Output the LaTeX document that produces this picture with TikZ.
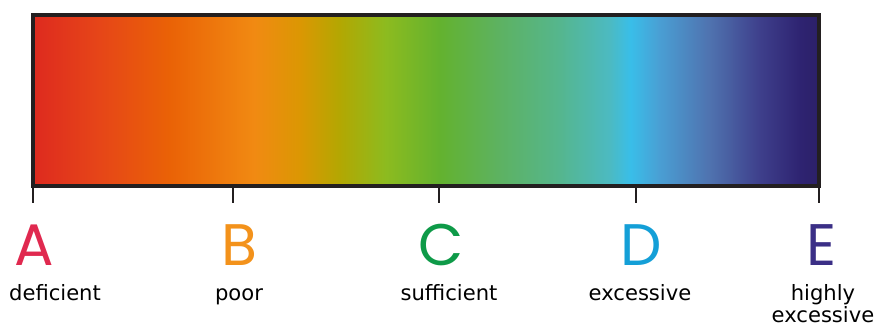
\documentclass[tikz,border=0pt]{standalone}
\usepackage{fontspec}
\setmainfont{DejaVu Sans}
\newfontfamily\gradefont{Poppins}
\usepackage{xcolor}
\usepackage{tikz}
\usetikzlibrary{positioning}
\definecolor{scaleink}{HTML}{231F20}
\definecolor{gradea}{HTML}{E0294F}
\definecolor{gradeb}{HTML}{F3921B}
\definecolor{gradec}{HTML}{0E9A48}
\definecolor{graded}{HTML}{149FD7}
\definecolor{gradee}{HTML}{3B2F86}
\definecolor{stopa}{HTML}{DE2A1F}
\definecolor{stopb}{HTML}{E64618}
\definecolor{stopc}{HTML}{EA6206}
\definecolor{stopd}{HTML}{F18A12}
\definecolor{stope}{HTML}{DB9703}
\definecolor{stopf}{HTML}{B3A702}
\definecolor{stopg}{HTML}{8DBB1F}
\definecolor{stoph}{HTML}{63B22F}
\definecolor{stopi}{HTML}{5DB262}
\definecolor{stopj}{HTML}{55B68E}
\definecolor{stopk}{HTML}{4CBAC2}
\definecolor{stopl}{HTML}{39BEE9}
\definecolor{stopm}{HTML}{4A9ED3}
\definecolor{stopn}{HTML}{4F72AF}
\definecolor{stopo}{HTML}{3E3F8B}
\definecolor{stopp}{HTML}{2E2371}
\definecolor{stopq}{HTML}{2C2068}
\pgfdeclarehorizontalshading{nutrientscale}{100bp}{
    color(0bp)=(stopa); color(25bp)=(stopa);
    color(29.25bp)=(stopb); color(33.7bp)=(stopc);
    color(39.1bp)=(stopd); color(42bp)=(stope);
    color(44.5bp)=(stopf); color(47.4bp)=(stopg);
    color(50.9bp)=(stoph); color(54.7bp)=(stopi);
    color(58.5bp)=(stopj); color(61.7bp)=(stopk);
    color(63bp)=(stopl); color(64.9bp)=(stopm);
    color(68.05bp)=(stopn); color(71.25bp)=(stopo);
    color(73.8bp)=(stopp); color(75bp)=(stopq);
    color(100bp)=(stopq)}

\begin{document}
\begin{tikzpicture}[x=0.03cm, y=-0.03cm,
    grade/.style={font=\gradefont\fontsize{50}{50}\selectfont, anchor=base, inner sep=0pt},
    level/.style={font=\fontsize{18}{19}\selectfont, text=black, anchor=base, inner sep=0pt, align=center},
    tickline/.style={draw=scaleink, line width=1.8pt}]
    \useasboundingbox (0,0) rectangle (875,327);

    % Colour bar
    \shade[shading=nutrientscale] (33,15) rectangle (819,186);
    \draw[scaleink, line width=2.8pt] (33,15) rectangle (819,186);

    % Ticks under the bar
    \foreach \x/\g in {33/A, 233/B, 439/C, 636/D, 819/E} {
        \coordinate (bar\g) at (\x,186);
        \coordinate (tick\g) at (\x,203);
        \draw[tickline] (bar\g) -- (tick\g);
    }

    % Grade letters
    \node[grade, text=gradea] (gradeA) at (34,265) {A};
    \node[grade, text=gradeb] (gradeB) at (239,265) {B};
    \node[grade, text=gradec] (gradeC) at (441,265) {C};
    \node[grade, text=graded] (gradeD) at (641,265) {D};
    \node[grade, text=gradee] (gradeE) at (822,265) {E};

    % Levels
    \node[level] (levelA) at (55,300) {deficient};
    \node[level] (levelB) at (239,300) {poor};
    \node[level] (levelC) at (449,300) {sufficient};
    \node[level] (levelD) at (640,300) {excessive};
    \node[level, anchor=north] (levelE) at (823,284) {highly\\excessive};
\end{tikzpicture}
\end{document}
